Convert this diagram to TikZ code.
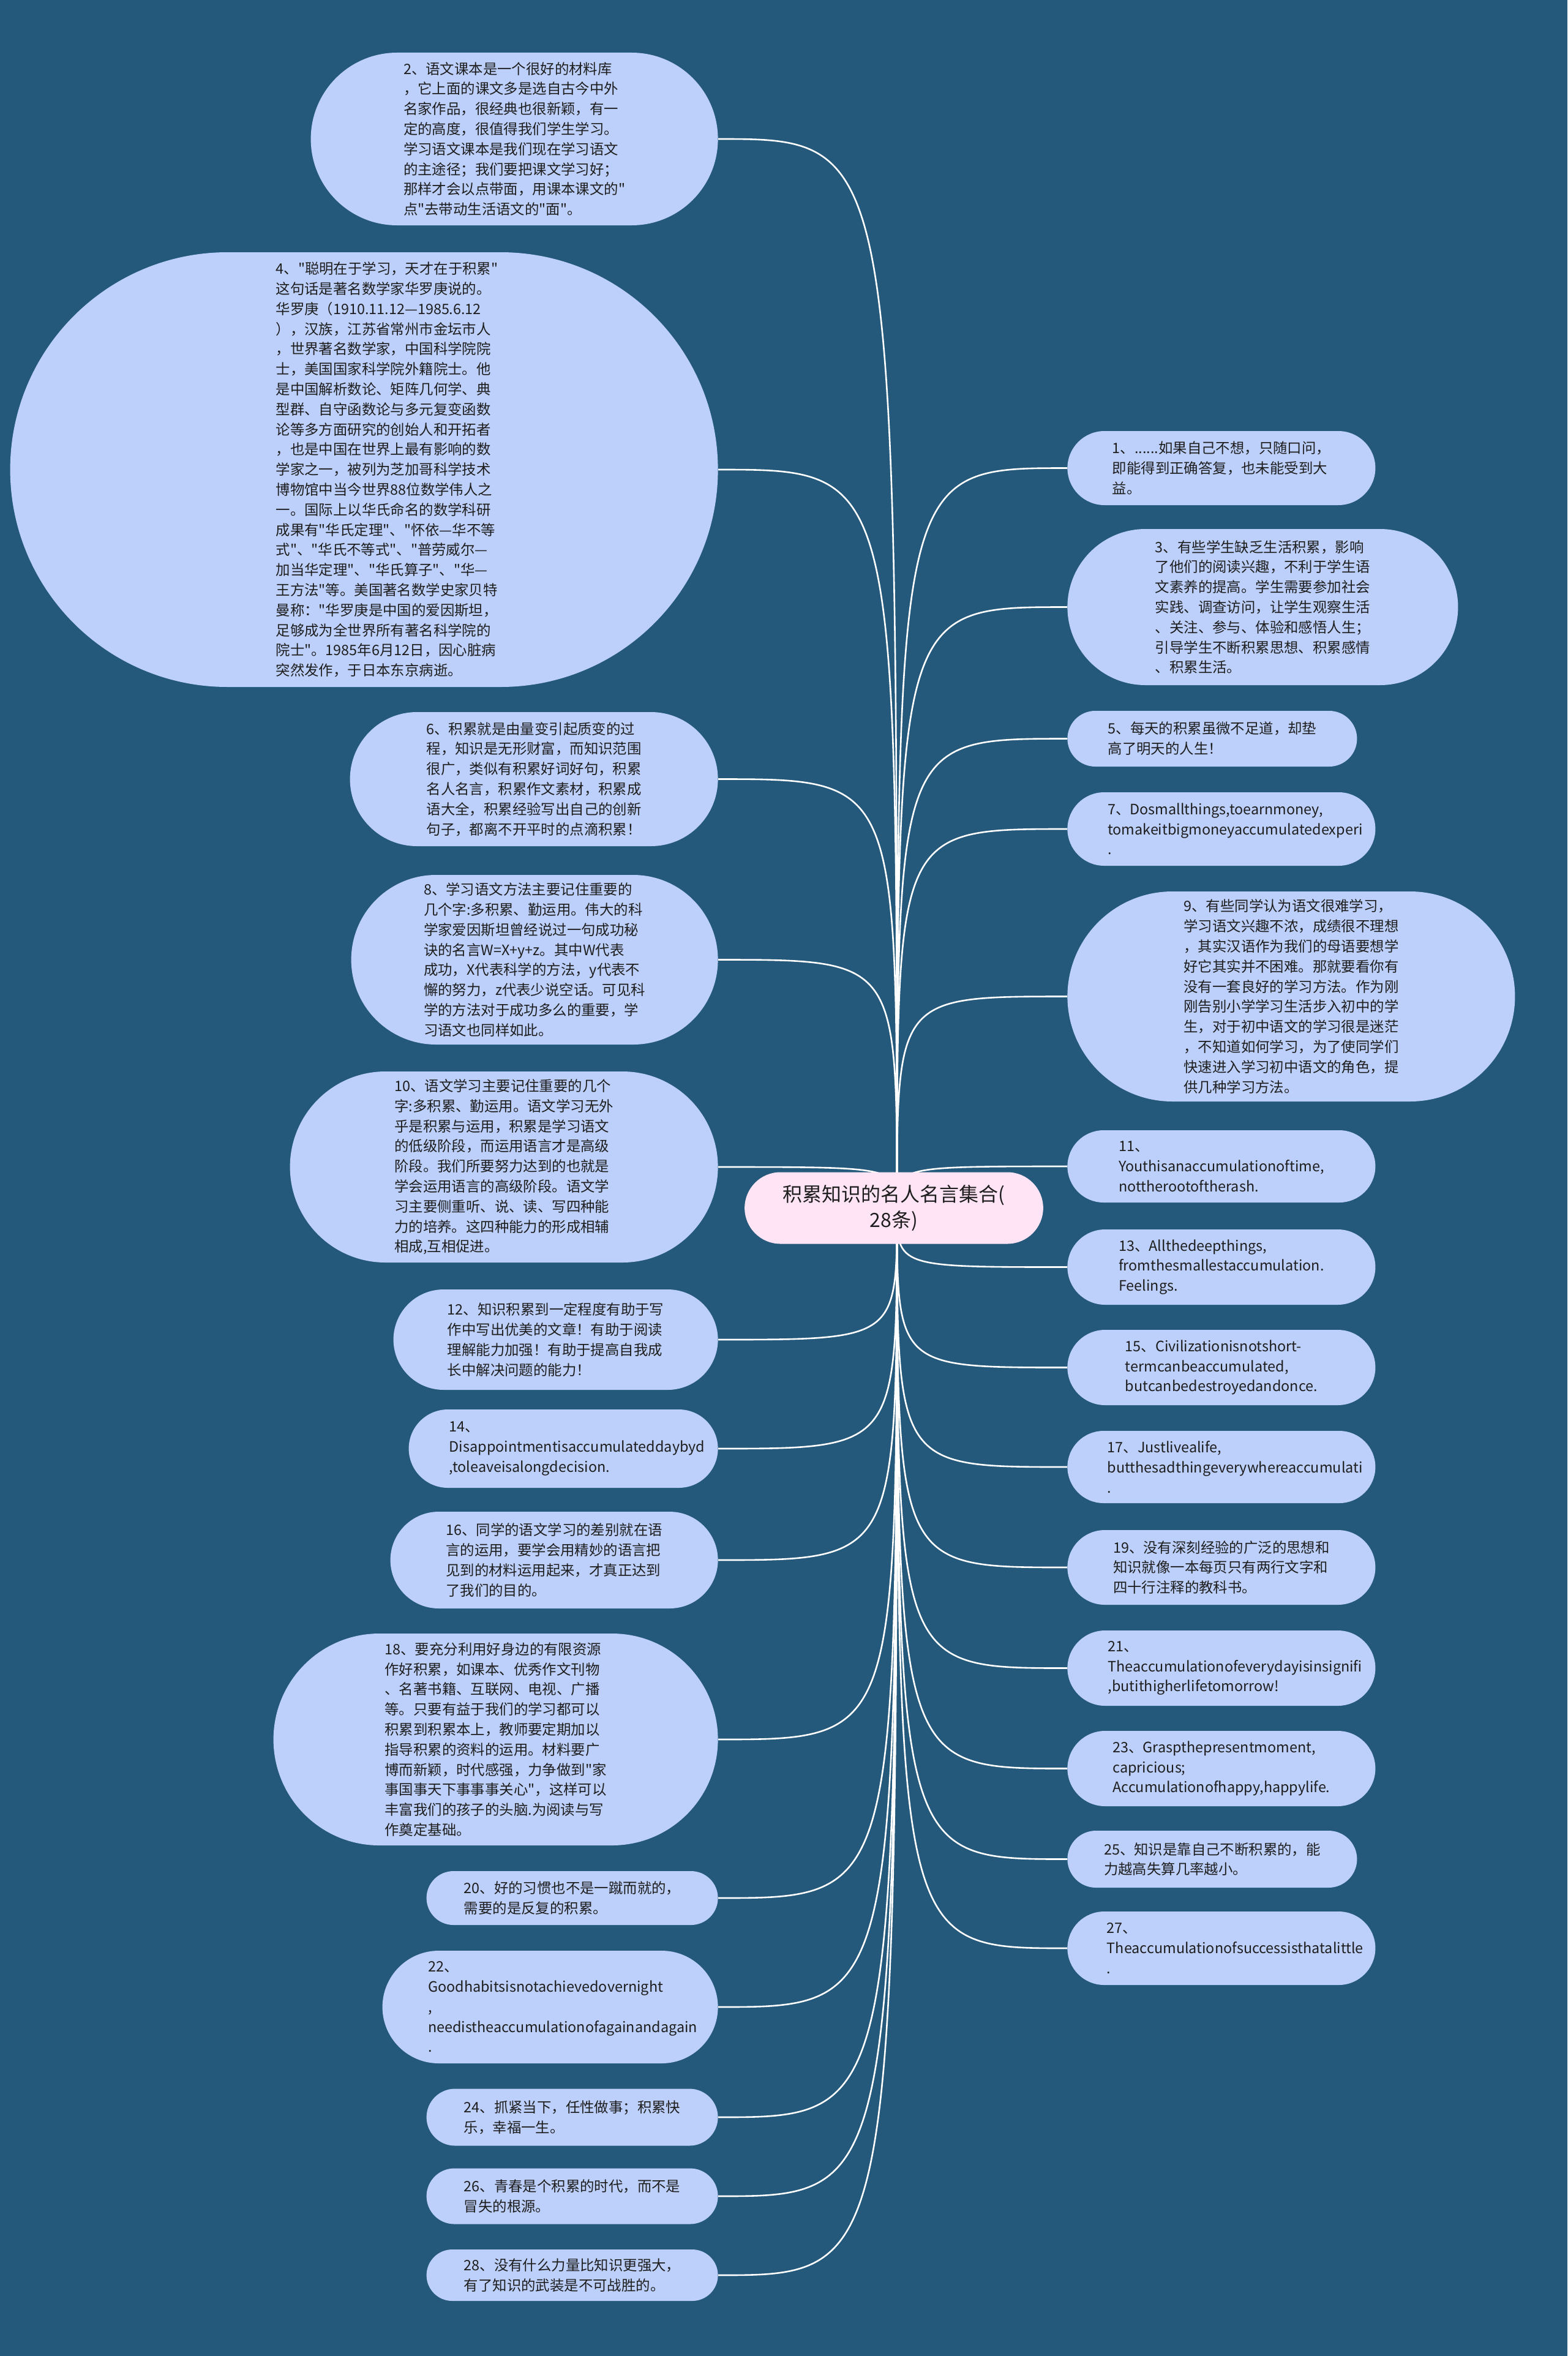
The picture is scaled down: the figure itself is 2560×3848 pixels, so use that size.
\documentclass[tikz,border=0pt]{standalone}
\usepackage{fontspec}
\setmainfont{Noto Sans CJK SC}[Ligatures=TeXOff]
\usetikzlibrary{shapes.misc}
\definecolor{bgblue}{RGB}{36,89,124}
\definecolor{leaf}{RGB}{189,208,251}
\definecolor{hubpink}{RGB}{255,228,245}
\definecolor{txt}{RGB}{30,30,30}
\pgfdeclarelayer{back}
\pgfdeclarelayer{edges}
\pgfsetlayers{back,edges,main}
\tikzset{
  leafbox/.style 2 args={rounded rectangle, fill=leaf, draw=none, text=txt,
    minimum width=#1*0.5pt, minimum height=#2*0.5pt, inner xsep=0pt, inner ysep=2pt,
    align=left, font=\fontsize{11.7pt}{16.4pt}\selectfont},
  leafL/.style 2 args={leafbox={#1}{#2}, anchor=east},
  leafR/.style 2 args={leafbox={#1}{#2}, anchor=west},
  cliptext/.style={rectangle, fill=none, draw=none, inner sep=0pt, anchor=west,
    align=left, text=txt, font=\fontsize{11.7pt}{16.4pt}\selectfont},
  hubbox/.style={rounded rectangle, fill=hubpink, draw=none, text=txt,
    minimum width=250.5pt, minimum height=58.5pt, inner ysep=2pt,
    align=center, font=\fontsize{16pt}{21pt}\selectfont},
  link/.style={draw=white, line width=1.3pt}
}
\begin{document}
\begin{tikzpicture}[x=0.5pt,y=-0.5pt]
\useasboundingbox (0,0) rectangle (2560,3848);
\begin{pgfonlayer}{back}
\fill[bgblue] (0,0) rectangle (2560,3848);
\end{pgfonlayer}

\coordinate (hub) at (1465,1973);
\node[hubbox] (c) at (1460,1973) {积累知识的名人名言集合(\\28条)};

% ---------- left column ----------
\node[leafL={665}{282}] (n2) at (1173,227) {2、语文课本是一个很好的材料库\\，它上面的课文多是选自古今中外\\名家作品，很经典也很新颖，有一\\定的高度，很值得我们学生学习。\\学习语文课本是我们现在学习语文\\的主途径；我们要把课文学习好；\\那样才会以点带面，用课本课文的"\\点"去带动生活语文的"面"。};

\node[leafL={1156}{710}] (n4) at (1173,767) {};
\node[cliptext, anchor=center] (t4) at (632,767) {4、"聪明在于学习，天才在于积累"\\这句话是著名数学家华罗庚说的。\\华罗庚（1910.11.12—1985.6.12\\），汉族，江苏省常州市金坛市人\\，世界著名数学家，中国科学院院\\士，美国国家科学院外籍院士。他\\是中国解析数论、矩阵几何学、典\\型群、自守函数论与多元复变函数\\论等多方面研究的创始人和开拓者\\，也是中国在世界上最有影响的数\\学家之一，被列为芝加哥科学技术\\博物馆中当今世界88位数学伟人之\\一。国际上以华氏命名的数学科研\\成果有"华氏定理"、"怀依—华不等\\式"、"华氏不等式"、"普劳威尔—\\加当华定理"、"华氏算子"、"华—\\王方法"等。美国著名数学史家贝特\\曼称："华罗庚是中国的爱因斯坦，\\足够成为全世界所有著名科学院的\\院士"。1985年6月12日，因心脏病\\突然发作，于日本东京病逝。};

\node[leafL={601}{219}] (n6) at (1173,1272.5) {6、积累就是由量变引起质变的过\\程，知识是无形财富，而知识范围\\很广，类似有积累好词好句，积累\\名人名言，积累作文素材，积累成\\语大全，积累经验写出自己的创新\\句子，都离不开平时的点滴积累！};

\node[leafL={599}{277}] (n8) at (1173,1567.5) {8、学习语文方法主要记住重要的\\几个字:多积累、勤运用。伟大的科\\学家爱因斯坦曾经说过一句成功秘\\诀的名言W=X+y+z。其中W代表\\成功，X代表科学的方法，y代表不\\懈的努力，z代表少说空话。可见科\\学的方法对于成功多么的重要，学\\习语文也同样如此。};

\node[leafL={699}{312}] (n10) at (1173,1906) {10、语文学习主要记住重要的几个\\字:多积累、勤运用。语文学习无外\\乎是积累与运用，积累是学习语文\\的低级阶段，而运用语言才是高级\\阶段。我们所要努力达到的也就是\\学会运用语言的高级阶段。语文学\\习主要侧重听、说、读、写四种能\\力的培养。这四种能力的形成相辅\\相成,互相促进。};

\node[leafL={530}{164}] (n12) at (1173,2188) {12、知识积累到一定程度有助于写\\作中写出优美的文章！有助于阅读\\理解能力加强！有助于提高自我成\\长中解决问题的能力！};

\node[leafL={505}{128}, path picture={
  \node[cliptext] (t14) at ([xshift=11pt]path picture bounding box.west) {14、\\Disappointmentisaccumulateddaybyd\\,toleaveisalongdecision.};
}] (n14) at (1173,2366) {};

\node[leafL={535}{158}] (n16) at (1173,2548) {16、同学的语文学习的差别就在语\\言的运用，要学会用精妙的语言把\\见到的材料运用起来，才真正达到\\了我们的目的。};

\node[leafL={726}{346}] (n18) at (1173,2841) {18、要充分利用好身边的有限资源\\作好积累，如课本、优秀作文刊物\\、名著书籍、互联网、电视、广播\\等。只要有益于我们的学习都可以\\积累到积累本上，教师要定期加以\\指导积累的资料的运用。材料要广\\博而新颖，时代感强，力争做到"家\\事国事天下事事事关心"，这样可以\\丰富我们的孩子的头脑.为阅读与写\\作奠定基础。};

\node[leafL={476}{88}] (n20) at (1173,3100) {20、好的习惯也不是一蹴而就的，\\需要的是反复的积累。};

\node[leafL={548}{184}, path picture={
  \node[cliptext] (t22) at ([xshift=10pt]path picture bounding box.west) {22、\\Goodhabitsisnotachievedovernight\\,\\needistheaccumulationofagainandagain\\.};
}] (n22) at (1173,3278) {};

\node[leafL={476}{93}] (n24) at (1173,3458) {24、抓紧当下，任性做事；积累快\\乐，幸福一生。};

\node[leafL={476}{91}] (n26) at (1173,3587) {26、青春是个积累的时代，而不是\\冒失的根源。};

\node[leafL={476}{84}] (n28) at (1173,3716) {28、没有什么力量比知识更强大，\\有了知识的武装是不可战胜的。};

% ---------- right column ----------
\node[leafR={503}{121}] (n1) at (1743,764.5) {1、......如果自己不想，只随口问，\\即能得到正确答复，也未能受到大\\益。};

\node[leafR={638}{255}] (n3) at (1743,991.5) {3、有些学生缺乏生活积累，影响\\了他们的阅读兴趣，不利于学生语\\文素养的提高。学生需要参加社会\\实践、调查访问，让学生观察生活\\、关注、参与、体验和感悟人生；\\引导学生不断积累思想、积累感情\\、积累生活。};

\node[leafR={473}{91}] (n5) at (1743,1206.5) {5、每天的积累虽微不足道，却垫\\高了明天的人生！};

\node[leafR={503}{120}, path picture={
  \node[cliptext] (t7) at ([xshift=11pt]path picture bounding box.west) {7、Dosmallthings,toearnmoney,\\tomakeitbigmoneyaccumulatedexperi\\.};
}] (n7) at (1743,1354) {};

\node[leafR={731}{343}] (n9) at (1743,1627.5) {9、有些同学认为语文很难学习，\\学习语文兴趣不浓，成绩很不理想\\，其实汉语作为我们的母语要想学\\好它其实并不困难。那就要看你有\\没有一套良好的学习方法。作为刚\\刚告别小学学习生活步入初中的学\\生，对于初中语文的学习很是迷茫\\，不知道如何学习，为了使同学们\\快速进入学习初中语文的角色，提\\供几种学习方法。};

\node[leafR={503}{118}] (n11) at (1743,1905) {11、\\Youthisanaccumulationoftime,\\nottherootoftherash.};

\node[leafR={503}{123}] (n13) at (1743,2069.5) {13、Allthedeepthings,\\fromthesmallestaccumulation.\\Feelings.};

\node[leafR={503}{123}] (n15) at (1743,2233.5) {15、Civilizationisnotshort-\\termcanbeaccumulated,\\butcanbedestroyedandonce.};

\node[leafR={503}{118}, path picture={
  \node[cliptext] (t17) at ([xshift=11pt]path picture bounding box.west) {17、Justlivealife,\\butthesadthingeverywhereaccumulati\\.};
}] (n17) at (1743,2396) {};

\node[leafR={503}{122}] (n19) at (1743,2560) {19、没有深刻经验的广泛的思想和\\知识就像一本每页只有两行文字和\\四十行注释的教科书。};

\node[leafR={503}{123}, path picture={
  \node[cliptext] (t21) at ([xshift=11pt]path picture bounding box.west) {21、\\Theaccumulationofeverydayisinsignifi\\,butithigherlifetomorrow!};
}] (n21) at (1743,2724.5) {};

\node[leafR={503}{123}] (n23) at (1743,2888.5) {23、Graspthepresentmoment,\\capricious;\\Accumulationofhappy,happylife.};

\node[leafR={473}{93}] (n25) at (1743,3036.5) {25、知识是靠自己不断积累的，能\\力越高失算几率越小。};

\node[leafR={503}{120}, path picture={
  \node[cliptext] (t27) at ([xshift=11pt]path picture bounding box.west) {27、\\Theaccumulationofsuccessisthatalittle\\.};
}] (n27) at (1743,3182) {};

% ---------- connectors ----------
\begin{pgfonlayer}{edges}
\foreach \n in {n2,n4,n6,n8,n10,n12,n14,n16,n18,n20,n22,n24,n26,n28}
  \draw[link] (hub) .. controls (hub |- \n.east) .. (\n.east);
\foreach \n in {n1,n3,n5,n7,n9,n11,n13,n15,n17,n19,n21,n23,n25,n27}
  \draw[link] (hub) .. controls (hub |- \n.west) .. (\n.west);
\end{pgfonlayer}
\end{tikzpicture}
\end{document}
